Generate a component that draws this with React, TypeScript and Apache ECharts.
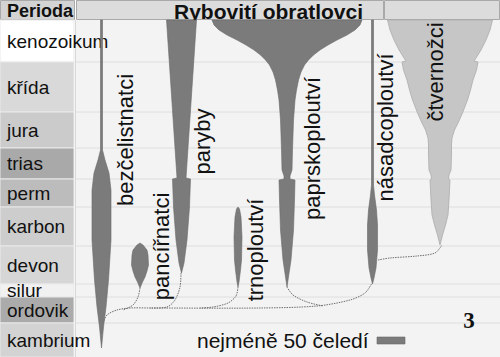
import React, { useEffect, useRef } from "react";
import * as echarts from "echarts";

// Geological periods (time runs downward: 0 = present, 337 = base of Cambrian, in table units)
const periods = ["kenozoikum", "křída", "jura", "trias", "perm", "karbon", "devon", "silur", "ordovik", "kambrium"];
const periodTop = [0, 42, 92, 128, 159, 187, 226, 264, 277, 303];
const periodBottom = [42, 92, 128, 159, 187, 226, 264, 277, 303, 337];

// Fish-like vertebrate groups
const taxa = ["bezčelistnatci", "pancířnatci", "paryby", "trnoploutví", "paprskoploutví", "násadcoploutví", "čtvernožci"];
// lineage axis position of each group
const taxonCenter = [25.5, 64, 105.5, 162, 211, 296.5, 364];

// diversity profiles: [time, spindle width]
const bezcelistnatciProfile = [[0, 2], [130, 2], [134, 4], [140, 7], [153, 15], [170, 19], [220, 19], [260, 14], [287, 9], [307, 4], [328, 0]];
const pancirnatciProfile = [[223, 0], [225, 6], [230, 14], [235, 16], [245, 17], [251, 14], [257, 10], [262, 5], [268, 0]];
const parybyProfile = [[0, 30], [158, 9], [159, 18], [187, 16], [220, 11], [243, 5], [253, 0]];
const trnoploutviProfile = [[187, 0], [189, 3], [197, 6], [217, 8], [240, 7], [250, 5], [262, 2], [267, 0]];
const paprskoploutviProfile = [[0, 150], [5, 146], [10, 136], [15, 120], [20, 100], [25, 82], [30, 66], [35, 53], [40, 43], [45, 35], [52, 28], [60, 23], [70, 19], [80, 16], [100, 13], [130, 11], [150, 10], [156, 6], [159, 6], [160, 16], [180, 15], [210, 13], [240, 8], [267, 0]];
const nasadcoploutviProfile = [[0, 2], [165, 2], [175, 4], [190, 8], [205, 10], [230, 10], [248, 7], [258, 3], [264, 0]];
const ctvernozciProfile = [[0, 105], [10, 100], [20, 92], [30, 82], [38, 72], [41, 68], [42, 76], [50, 73], [60, 66], [70, 61], [80, 55], [93, 45], [103, 36], [110, 29], [118, 24], [125, 23], [135, 23], [150, 22], [155, 18], [159, 17], [160, 20], [180, 18], [195, 16], [205, 11], [215, 5], [225, 0]];
const taxonProfiles = [bezcelistnatciProfile, pancirnatciProfile, parybyProfile, trnoploutviProfile, paprskoploutviProfile, nasadcoploutviProfile, ctvernozciProfile];
const taxonIsTetrapod = [false, false, false, false, false, false, true];

// phylogenetic links: [lineage position, time]
const trunkLink = [[27, 303], [31, 295], [41, 290], [54, 288], [74, 288], [184, 288], [241, 286], [274, 280], [289, 273], [296, 263]];
const pancirnatciLink = [[64, 268], [62, 277], [57, 285], [47, 290]];
const parybyLink = [[105, 253], [104, 267], [99, 280], [91, 287], [74, 288]];
const trnoploutviLink = [[162, 267], [160, 276], [152, 283], [137, 287], [124, 288]];
const paprskoploutviLink = [[211, 267], [217, 275], [231, 282], [247, 286]];
const ctvernozciLink = [[302, 240], [314, 238], [341, 236], [359, 233], [366, 225]];
const links = [trunkLink, pancirnatciLink, parybyLink, trnoploutviLink, paprskoploutviLink, ctvernozciLink];

const legendText = "nejméně 50 čeledí";
const headerTitle = "Rybovití obratlovci";
const periodHeader = "Perioda";
const pageNumber = "3";

// ---- layout / style (not data) ----
const labelAnchor = [[49, 120], [85, 226.5], [126, 121.5], [179, 230], [236, 128.5], [309.5, 107.5], [359, 52]];
const periodFill = ["#ffffff", "#d9d9d9", "#cbcbcb", "#a9a9a9", "#bcbcbc", "#cdcdcd", "#d6d6d6", "#f1f1f1", "#ababab", "#d3d3d3"];
const DARK = "#7b7b7b";
const DARK_EDGE = "#6a6a6a";
const LIGHT = "#c6c6c6";
const LIGHT_EDGE = "#acacac";
const FONT = '"Liberation Sans", Arial, Helvetica, sans-serif';

export default function App() {
  const ref = useRef<HTMLDivElement>(null);

  useEffect(() => {
    document.body.style.margin = "0";
    if (!ref.current) return;
    const chart = echarts.init(ref.current, undefined, { renderer: "svg" });

    const option: any = {
      animation: false,
      backgroundColor: "#ffffff",
      grid: [
        { left: 76, right: 0, top: 20, bottom: 0, show: true, backgroundColor: "#f3f3f3", borderWidth: 0 },
        { left: 0, width: 74, top: 20, bottom: 0, show: false },
      ],
      xAxis: [
        { type: "value", gridIndex: 0, min: 0, max: 424, show: false },
        { type: "value", gridIndex: 1, min: 0, max: 1, show: false },
      ],
      yAxis: [
        { type: "value", gridIndex: 0, min: 0, max: 337, inverse: true, show: false },
        { type: "value", gridIndex: 1, min: 0, max: 337, inverse: true, show: false },
      ],
      graphic: [
        { type: "rect", shape: { x: 0.5, y: 0.5, width: 74, height: 19 }, style: { fill: "#d3d3d3", stroke: "#a9a9a9", lineWidth: 1 } },
        { type: "rect", shape: { x: 76.5, y: 0.5, width: 307, height: 19 }, style: { fill: "#dcdcdc", stroke: "#a9a9a9", lineWidth: 1 } },
        { type: "rect", shape: { x: 384.5, y: 0.5, width: 115, height: 19 }, style: { fill: "#dcdcdc", stroke: "#a9a9a9", lineWidth: 1 } },
        { type: "line", shape: { x1: 75.5, y1: 20, x2: 75.5, y2: 357 }, style: { stroke: "#d8d8d8", lineWidth: 1 } },
        {
          type: "text", x: 7, y: 11,
          style: { text: periodHeader, font: `bold 18px ${FONT}`, fill: "#111", align: "left", textAlign: "left", verticalAlign: "middle", textVerticalAlign: "middle" },
        },
        {
          type: "text", x: 268.5, y: 11,
          style: { text: headerTitle, font: `bold 21px ${FONT}`, fill: "#111", align: "center", textAlign: "center", verticalAlign: "middle", textVerticalAlign: "middle" },
        },
        {
          type: "text", x: 197, y: 340, z: 10,
          style: { text: legendText, font: `21px ${FONT}`, fill: "#111", align: "left", textAlign: "left", verticalAlign: "middle", textVerticalAlign: "middle" },
        },
        { type: "rect", z: 10, shape: { x: 377, y: 337, width: 28, height: 7 }, style: { fill: DARK, stroke: DARK_EDGE, lineWidth: 0.6 } },
        {
          type: "text", x: 469, y: 320, z: 10,
          style: { text: pageNumber, font: `bold 23px "Liberation Serif", "Times New Roman", serif`, fill: "#111", align: "center", textAlign: "center", verticalAlign: "middle", textVerticalAlign: "middle" },
        },
      ],
      series: [
        {
          type: "custom",
          name: "periods",
          xAxisIndex: 1,
          yAxisIndex: 1,
          encode: { x: 0, y: 1 },
          data: periods.map((_, i) => [0, periodTop[i], periodBottom[i]]),
          renderItem: (params: any, api: any) => {
            const i = params.dataIndex;
            const p0 = api.coord([0, periodTop[i]]);
            const p1 = api.coord([1, periodBottom[i]]);
            return {
              type: "group",
              children: [
                {
                  type: "rect",
                  shape: { x: p0[0], y: p0[1], width: p1[0] - p0[0], height: p1[1] - p0[1] },
                  style: { fill: periodFill[i], stroke: "#e9e9e9", lineWidth: 1 },
                },
                {
                  type: "text",
                  x: p0[0] + 7,
                  y: (p0[1] + p1[1]) / 2,
                  z2: 5,
                  style: { text: periods[i], font: `19px ${FONT}`, fill: "#111", align: "left", textAlign: "left", verticalAlign: "middle", textVerticalAlign: "middle" },
                },
              ],
            };
          },
          z: 3,
        },
        {
          type: "custom",
          name: "period lines",
          xAxisIndex: 0,
          yAxisIndex: 0,
          encode: { x: 0, y: 1 },
          data: periodTop.slice(1).map((t) => [0, t]),
          renderItem: (params: any, api: any) => {
            const t = periodTop[params.dataIndex + 1];
            const a = api.coord([0, t]);
            const b = api.coord([424, t]);
            return { type: "line", shape: { x1: a[0], y1: a[1], x2: b[0], y2: b[1] }, style: { stroke: "#dedede", lineWidth: 1 } };
          },
          z: 1,
        },
        {
          type: "custom",
          name: "links",
          xAxisIndex: 0,
          yAxisIndex: 0,
          encode: { x: 0, y: 1 },
          data: links.map((l) => l[0]),
          renderItem: (params: any, api: any) => {
            const pts = links[params.dataIndex].map((p) => api.coord(p));
            return {
              type: "polyline",
              shape: { points: pts, smooth: 0.3 },
              style: { fill: null, stroke: "#6e6e6e", lineWidth: 1, lineDash: [1.5, 1] },
            };
          },
          z: 2,
        },
        {
          type: "custom",
          name: "groups",
          xAxisIndex: 0,
          yAxisIndex: 0,
          encode: { x: 0, y: 1 },
          data: taxa.map((_, i) => [taxonCenter[i], taxonProfiles[i][0][0]]),
          renderItem: (params: any, api: any) => {
            const i = params.dataIndex;
            const c = taxonCenter[i];
            const prof = taxonProfiles[i];
            const left = prof.map(([t, w]) => api.coord([c - w / 2, t]));
            const right = prof.slice().reverse().map(([t, w]) => api.coord([c + w / 2, t]));
            const lab = api.coord(labelAnchor[i]);
            const light = taxonIsTetrapod[i];
            return {
              type: "group",
              children: [
                {
                  type: "polygon",
                  shape: { points: left.concat(right) },
                  style: { fill: light ? LIGHT : DARK, stroke: light ? LIGHT_EDGE : DARK_EDGE, lineWidth: light ? 0.8 : 0.6 },
                },
                {
                  type: "text",
                  x: lab[0],
                  y: lab[1],
                  rotation: Math.PI / 2,
                  z2: 10,
                  style: { text: taxa[i], font: `22px ${FONT}`, fill: "#111", align: "center", textAlign: "center", verticalAlign: "middle", textVerticalAlign: "middle" },
                },
              ],
            };
          },
          z: 4,
        },
      ],
    };

    chart.setOption(option);
    return () => chart.dispose();
  }, []);

  return <div ref={ref} style={{ width: 500, height: 357 }} />;
}
